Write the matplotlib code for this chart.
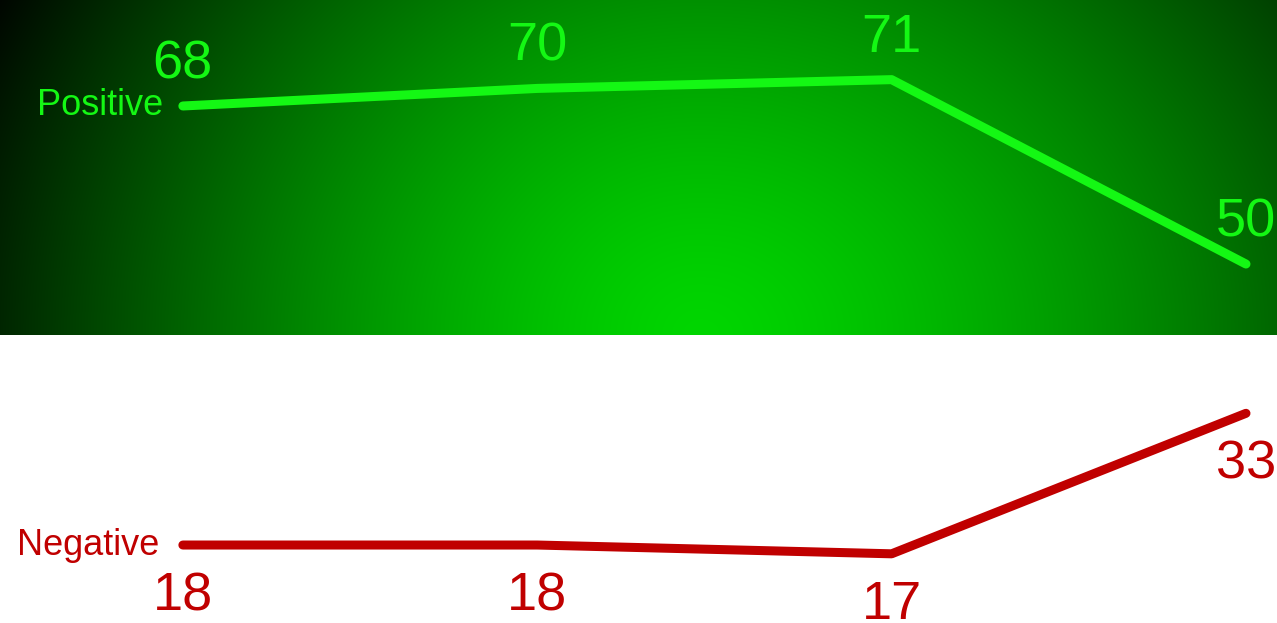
import numpy as np
import matplotlib
matplotlib.use("Agg")
from matplotlib import pyplot as plt

plt.rcParams['font.family'] = ['Liberation Sans', 'DejaVu Sans']

# DATA ########################################################################

periods = [0, 1, 2, 3]
positive = [68, 70, 71, 50]
negative = [18, 18, 17, 33]
series_names = ["Positive", "Negative"]

POS_COLOR = "#14f814"
NEG_COLOR = "#c00000"

# FIGURE ######################################################################

fig = plt.figure(figsize=(12.77, 6.23), dpi=100)
ax = fig.add_axes([0, 0, 1, 1])
ax.set_xlim(-0.516, 3.0875)
ax.set_ylim(9.12, 80.07)
ax.axis("off")

# radial green background in the top band (brightest at bottom centre)
w, h = 1277, 335
xx, yy = np.meshgrid(np.arange(w), np.arange(h))
cx = 700.0
rx = np.where(xx < cx, 700.0, 800.0)
d = np.sqrt(((xx - cx) / rx) ** 2 + ((yy - h) / 650.0) ** 2)
g = np.clip(214 - 176 * d ** 1.4, 0, 255) / 255.0
bg = np.zeros((h, w, 3))
bg[..., 1] = g
ax.imshow(bg, aspect="auto", extent=[0, 1, 1 - 335 / 623, 1],
          transform=ax.transAxes, interpolation="bilinear", zorder=0)

ax.plot(periods, positive, color=POS_COLOR, lw=6.5,
        solid_capstyle="round", solid_joinstyle="round", zorder=2)
ax.plot(periods, negative, color=NEG_COLOR, lw=6.5,
        solid_capstyle="round", solid_joinstyle="round", zorder=2)

for x, v in zip(periods, positive):
    ax.annotate(str(v), (x, v), xytext=(0, 20), textcoords="offset points",
                ha="center", va="baseline", fontsize=39, color=POS_COLOR)
for x, v in zip(periods, negative):
    ax.annotate(str(v), (x, v), xytext=(0, -47), textcoords="offset points",
                ha="center", va="baseline", fontsize=39, color=NEG_COLOR)

ax.annotate(series_names[0], (periods[0], positive[0]), xytext=(-14, 0),
            textcoords="offset points", ha="right", va="center",
            fontsize=26, color=POS_COLOR)
ax.annotate(series_names[1], (periods[0], negative[0]), xytext=(-17, 0),
            textcoords="offset points", ha="right", va="center",
            fontsize=26, color=NEG_COLOR)

fig.savefig("out.png", dpi=100)
